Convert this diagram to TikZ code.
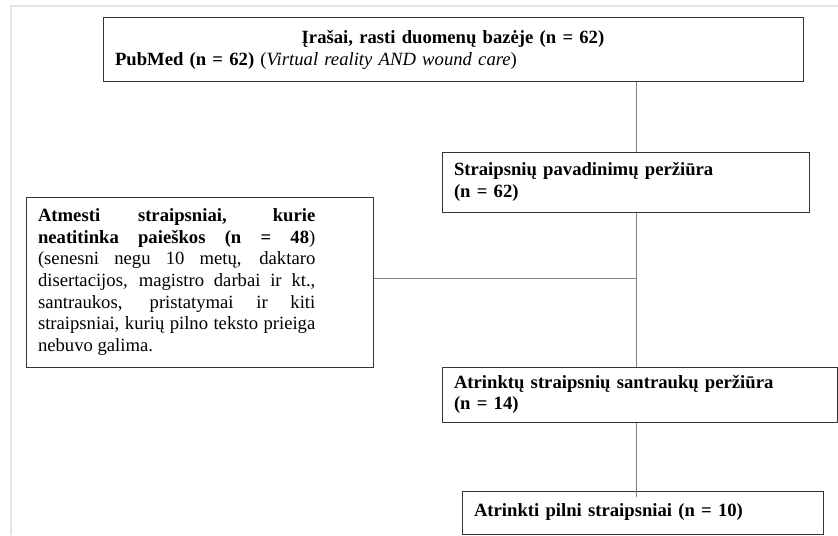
\documentclass[tikz,border=0pt]{standalone}
\usepackage{fontspec}
\setmainfont{Liberation Serif}
\usetikzlibrary{calc}

\begin{document}
\begin{tikzpicture}[x=0.75pt,y=-0.75pt,
	stagebox/.style={draw=black!80, line width=0.75pt, inner xsep=9pt, inner ysep=0pt,
		align=left, font=\fontsize{14}{16.25}\selectfont},
	flowline/.style={draw=black!50, line width=0.75pt}]
	\useasboundingbox (0,0) rectangle (838,535);
	
	%page frame
	\draw[black!10, line width=1.5pt] (11,535)--(11,6)--(838,6);
	
	\node[stagebox, minimum height=48pt, text width=507pt] (records) at (453,50)
		{{\centering\textbf{Įrašai, rasti duomenų bazėje (n = 62)}\par}
		\textbf{PubMed (n = 62)} (\textit{Virtual reality AND wound care})};	%top
	\node[stagebox, minimum height=45pt, text width=257.25pt] (titles) at (625.5,182)
		{\textbf{Straipsnių pavadinimų peržiūra\\(n = 62)}};
	\node[stagebox, minimum height=127.5pt, text width=242.25pt, align=justify] (excluded) at (199.5,282)
		{\vbox{\hsize=208pt\noindent
		\textbf{Atmesti straipsniai, kurie\linebreak neatitinka paieškos (n = 48})\linebreak
		(senesni negu 10 metų, daktaro\linebreak disertacijos, magistro darbai ir kt.,\linebreak
		santraukos, pristatymai ir kiti\linebreak straipsniai, kurių pilno teksto prieiga\linebreak
		nebuvo galima.\par}};	%left
	\node[stagebox, minimum height=41.25pt, text width=278.25pt] (abstracts) at (639.5,394.5)
		{\textbf{Atrinktų straipsnių santraukų peržiūra\\(n = 14)}};
	\node[stagebox, minimum height=32.25pt, text width=252.75pt] (fulltext) at (642.5,512.5)
		{\textbf{Atrinkti pilni straipsniai (n = 10)}};	%bottom
	
	%vertical lines
	\coordinate (spine) at (636,0);
	\draw[flowline] (records.south -| spine)--(titles.north -| spine);
	\draw[flowline] (titles.south -| spine)--(abstracts.north -| spine);
	\draw[flowline] (abstracts.south -| spine)--($(fulltext.north -| spine)+(0,6)$);
	
	%horizontal line
	\coordinate (join) at (636,278);
	\draw[flowline] (excluded.east |- join)--(join);
\end{tikzpicture}
\end{document}
